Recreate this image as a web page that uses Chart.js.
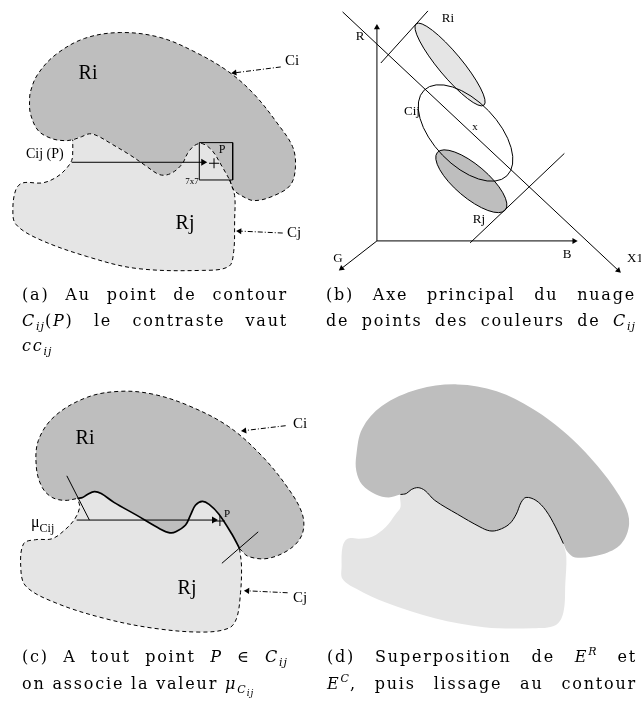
<!DOCTYPE html>
<html>
<head>
<meta charset="utf-8">
<script src="https://cdn.jsdelivr.net/npm/chart.js@4.4.0/dist/chart.umd.min.js"></script>
<style>
  html, body { margin: 0; padding: 0; background: #fff; }
  #wrap { position: relative; width: 641px; height: 701px; overflow: hidden; }
  #fig { position: absolute; left: 0; top: 0; }
  .lbl { position: absolute; font-family: "Liberation Serif", serif; color: #000; white-space: nowrap; line-height: 1; }
  .lbl sub { font-size: 0.75em; vertical-align: -0.4em; line-height: 0; }
  .cap { position: absolute; font-family: "DejaVu Serif", serif; font-size: 16px; line-height: 22px; height: 22px;
         letter-spacing: 1.8px; color: #000; white-space: nowrap; }
  .cap.j { white-space: normal; text-align: justify; text-align-last: justify; }
  .cap sub, .cap sup { font-size: 11px; line-height: 0; letter-spacing: 1px; }
  .cap sub { vertical-align: -4px; }
  .cap sup { vertical-align: 7px; }
  .cap sub sub { font-size: 9px; vertical-align: -3px; }
</style>
</head>
<body>
<div id="wrap">
  <canvas id="fig" width="641" height="701"></canvas>
</div>
<script>
// ---- (a) contour point and its 7x7 window ----
const contourA = [[68,136],[77,133],[85,130],[93,132],[107,140],[127,152],[143,163],[155,171],[163,172],[172,168],[180,160],[185,150],[192,142],[200,140],[210,147],[220,163],[228,177]];
const riOuterA = [[228,177],[232,187],[240,193],[253,198],[273,193],[290,182],[295,163],[292,143],[277,120],[253,90],[227,67],[193,47],[157,32],[117,27],[80,33],[50,50],[32,70],[25,87],[24,97],[25,110],[33,127],[47,135],[60,137],[68,136]];
const rjOuterA = [[228,177],[233,193],[233,217],[232,250],[227,265],[200,269],[133,267],[83,255],[33,237],[10,222],[7,207],[10,187],[17,180],[37,180],[50,175],[60,167],[67,157],[68,147],[68,136]];
const probeArrowA = [[67,159],[201,159]];
const windowA = [[197,139],[231,139],[231,177],[197,177],[197,139]];
const pointA = [[212,160]];
const ciArrowA = [[280,62],[233,68]];
const cjArrowA = [[282,231],[238,229]];

// ---- (b) colour space R,G,B and principal axis X1 ----
const axisR = [[378,239],[378,22]];
const axisB = [[378,239],[579,239]];
const axisG = [[378,239],[342,267]];
const axisX1 = [[343,6],[624,269]];
const perpTop = [[382,58],[430,5]];
const perpBottom = [[473,241],[569,150]];
const ellipseNames = ['Ri', 'Rj', 'Cij'];
const ellipseCentres = [[452.5,59.5],[474.2,178.3],[468.3,129.2]];
const ellipseAxes = [[54,12],[45.4,16.7],[60.7,32.6]];
const ellipseTilt = [50.2,40.3,46];

// ---- (c) value mu on the contour ----
const contourC = [[73,501],[78,500],[83,497],[90,494],[97,496],[110,505],[133,518],[157,532],[167,536],[173,535],[183,528],[188,518],[193,508],[200,504],[207,507],[217,517],[230,537],[238,552]];
const riOuterC = [[238,552],[247,560],[267,562],[290,552],[302,537],[302,517],[287,490],[260,457],[227,428],[187,407],[150,395],[117,392],[83,398],[50,417],[33,442],[31,470],[37,490],[47,500],[60,503],[73,501]];
const rjOuterC = [[238,552],[240,570],[239,597],[235,623],[227,633],[200,637],[150,633],[100,623],[50,607],[20,590],[15,570],[18,547],[30,543],[47,542],[60,533],[70,522],[75,510],[73,501]];
const probeArrowC = [[72,523],[212,523]];
const pointC = [[218,524]];
const normalLeftC = [[62,478],[85,523]];
const normalRightC = [[220,567],[257,535]];
const ciArrowC = [[285,427],[243,432]];
const cjArrowC = [[287,597],[246,595]];

// ---- (d) superposition, smoothed contour ----
const contourD = [[402,497],[408,496],[413,492],[420,490],[427,493],[437,503],[460,517],[483,530],[493,534],[502,533],[513,527],[520,517],[525,505],[530,500],[540,503],[550,513],[560,530],[568,547]];
const riOuterD = [[568,547],[572,555],[580,561],[607,558],[627,547],[635,527],[630,507],[607,473],[573,437],[537,410],[500,392],[460,385],[420,390],[383,407],[363,430],[357,457],[357,473],[363,487],[377,497],[390,500],[402,497]];
const rjOuterD = [[568,547],[571,560],[570,587],[568,617],[560,630],[537,633],[487,632],[437,623],[387,607],[357,593],[343,583],[342,570],[343,550],[348,542],[360,542],[373,540],[387,530],[397,517],[402,510],[402,497]];

const DARK = '#bebebe';
const LIGHT = '#e5e5e5';
const ellipseFill = { Ri: LIGHT, Rj: DARK, Cij: null };

const xy = a => a.map(p => ({x: p[0], y: p[1]}));
const datasets = [];
function add(ds) {
  ds.order = -datasets.length; // first added is drawn first
  datasets.push(ds);
}
function area(points, colour) {
  add({data: xy(points), showLine: true, fill: 'shape', backgroundColor: colour,
       borderWidth: 0, borderColor: colour, tension: 0.35, pointRadius: 0});
}
function outline(points, opts) {
  add({data: xy(points), showLine: true, fill: false, borderColor: '#000',
       borderWidth: opts.width || 1, borderDash: opts.dash || [], tension: opts.tension || 0, pointRadius: 0});
}
function arrow(points, opts) {
  const a = points[0], b = points[points.length - 1];
  const rot = Math.atan2(b[1] - a[1], b[0] - a[0]) * 180 / Math.PI + 90;
  add({data: xy(points), showLine: true, fill: false, borderColor: '#000', borderWidth: 1,
       borderDash: opts.dash || [], tension: 0,
       pointRadius: points.map((p, i) => i === points.length - 1 ? (opts.head || 4) : 0),
       pointStyle: 'triangle', pointRotation: points.map(() => rot),
       pointBackgroundColor: '#000', pointBorderWidth: 0});
}
function cross(points) {
  add({data: xy(points), showLine: false, pointStyle: 'cross', pointRadius: 5,
       pointBorderColor: '#000', pointBorderWidth: 1});
}
const dashDot = [5, 2, 1, 2];
const dashed = [4, 3];

// (a)
area(riOuterA.concat(contourA.slice(1)), DARK);
area(rjOuterA.concat(contourA.slice(1)), LIGHT);
outline(riOuterA.concat(contourA.slice(1)), {dash: dashed, tension: 0.35});
outline(rjOuterA, {dash: dashed, tension: 0.35});
arrow(probeArrowA, {head: 4});
outline(windowA, {});
cross(pointA);
arrow(ciArrowA, {dash: dashDot, head: 3.5});
arrow(cjArrowA, {dash: dashDot, head: 3.5});

// (b)
arrow(axisR, {head: 3.5});
arrow(axisB, {head: 3.5});
arrow(axisG, {head: 3.5});
arrow(axisX1, {head: 3.5});
outline(perpTop, {});
outline(perpBottom, {});

// (c)
area(riOuterC.concat(contourC.slice(1)), DARK);
area(rjOuterC.concat(contourC.slice(1)), LIGHT);
outline(riOuterC, {dash: dashed, tension: 0.35});
outline(rjOuterC, {dash: dashed, tension: 0.35});
outline(contourC, {width: 1.7, tension: 0.35});
arrow(probeArrowC, {head: 4});
cross(pointC);
outline(normalLeftC, {});
outline(normalRightC, {});
arrow(ciArrowC, {dash: dashDot, head: 3.5});
arrow(cjArrowC, {dash: dashDot, head: 3.5});

// (d)
area(riOuterD.concat(contourD.slice(1)), DARK);
area(rjOuterD.concat(contourD.slice(1)), LIGHT);
outline(contourD, {width: 1, tension: 0.35});

// colour clouds of panel (b), drawn through the chart scales
const ellipsePlugin = {
  id: 'clouds',
  beforeDatasetsDraw(chart) {
    const {ctx, scales: {x, y}} = chart;
    ellipseNames.forEach((name, i) => {
      const c = ellipseCentres[i];
      const cx = x.getPixelForValue(c[0]);
      const cy = y.getPixelForValue(c[1]);
      const rx = Math.abs(x.getPixelForValue(c[0] + ellipseAxes[i][0]) - cx);
      const ry = Math.abs(x.getPixelForValue(c[0] + ellipseAxes[i][1]) - cx);
      ctx.save();
      ctx.beginPath();
      ctx.ellipse(cx, cy, rx, ry, ellipseTilt[i] * Math.PI / 180, 0, 2 * Math.PI);
      if (ellipseFill[name]) { ctx.fillStyle = ellipseFill[name]; ctx.fill(); }
      ctx.lineWidth = 1;
      ctx.strokeStyle = '#000';
      ctx.stroke();
      ctx.restore();
    });
  }
};

new Chart(document.getElementById('fig'), {
  type: 'scatter',
  data: {datasets: datasets},
  options: {
    responsive: false,
    animation: false,
    events: [],
    layout: {padding: 0},
    scales: {
      x: {type: 'linear', min: 0, max: 641, display: false},
      y: {type: 'linear', min: 0, max: 701, reverse: true, display: false}
    },
    plugins: {legend: {display: false}, tooltip: {enabled: false}}
  },
  plugins: [ellipsePlugin]
});

// ---- text: region names and annotations ----
const notes = [
  ['Ri', 88, 72, 20, 'c'], ['Rj', 185, 222, 20, 'c'],
  ['Ci', 285, 60, 15, 'l'], ['Cj', 287, 232, 15, 'l'],
  ['Cij (P)', 26, 154, 14, 'l'], ['P', 222, 149, 12, 'c'], ['7x7', 192, 181, 9, 'c'],
  ['R', 360, 35, 13, 'c'], ['G', 338, 257, 13, 'c'], ['B', 567, 253, 13, 'c'], ['X1', 627, 257, 13, 'l'],
  ['Ri', 448, 17, 13, 'c'], ['Cij', 412, 110, 13, 'c'], ['x', 475, 126, 11, 'c'], ['Rj', 479, 218, 13, 'c'],
  ['Ri', 85, 437, 20, 'c'], ['Rj', 187, 587, 20, 'c'],
  ['Ci', 293, 423, 15, 'l'], ['Cj', 293, 597, 15, 'l'], ['P', 227, 513, 11, 'c'],
  ['μ<sub>Cij</sub>', 31, 522, 16, 'l']
];
const wrap = document.getElementById('wrap');
notes.forEach(([t, x, y, s, a]) => {
  const d = document.createElement('div');
  d.className = 'lbl';
  d.innerHTML = t;
  d.style.left = x + 'px';
  d.style.top = y + 'px';
  d.style.fontSize = s + 'px';
  d.style.transform = a === 'c' ? 'translate(-50%,-50%)' : 'translateY(-50%)';
  wrap.appendChild(d);
});

// ---- captions ----
const captions = [
  ['(a) Au point de contour', 22, 295, 266, true],
  ['<i>C<sub>ij</sub></i>(<i>P</i>) le contraste vaut', 22, 321, 266, true],
  ['<i>cc<sub>ij</sub></i>', 22, 346, 0, false],
  ['(b) Axe principal du nuage', 326, 295, 310, true],
  ['de points des couleurs de <i>C<sub>ij</sub></i>', 326, 321, 310, true],
  ['(c) A tout point <i>P</i> ∈ <i>C<sub>ij</sub></i>', 22, 657, 266, true],
  ['on associe la valeur <i>μ<sub>C<sub>ij</sub></sub></i>', 22, 684, 0, false],
  ['(d) Superposition de <i>E<sup>R</sup></i> et', 327, 657, 310, true],
  ['<i>E<sup>C</sup></i>, puis lissage au contour', 327, 684, 310, true]
];
captions.forEach(([t, x, y, w, j]) => {
  const d = document.createElement('div');
  d.className = j ? 'cap j' : 'cap';
  d.innerHTML = t;
  d.style.left = x + 'px';
  d.style.top = (y - 11) + 'px';
  if (w) d.style.width = w + 'px';
  wrap.appendChild(d);
});
</script>
</body>
</html>
